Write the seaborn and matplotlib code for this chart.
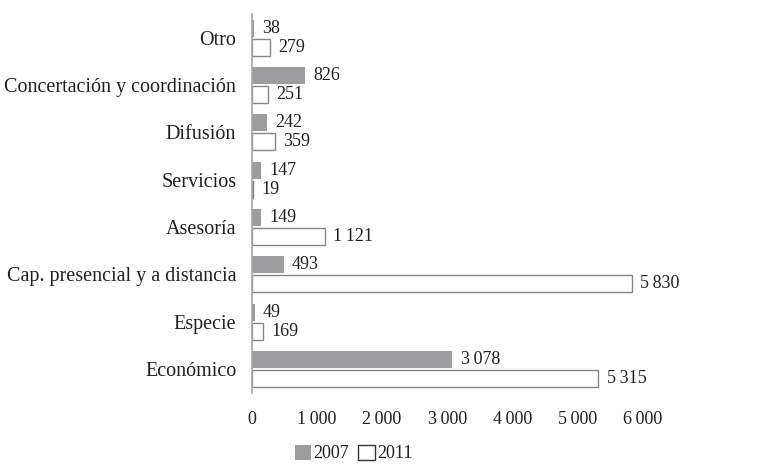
import matplotlib
matplotlib.use("Agg")
import matplotlib.pyplot as plt
import pandas as pd
import seaborn as sns

categorias = [
    "Otro",
    "Concertación y coordinación",
    "Difusión",
    "Servicios",
    "Asesoría",
    "Cap. presencial y a distancia",
    "Especie",
    "Económico",
]
valores_2007 = [38, 826, 242, 147, 149, 493, 49, 3078]
valores_2011 = [279, 251, 359, 19, 1121, 5830, 169, 5315]
anios = ["2007", "2011"]
ticks_x = [0, 1000, 2000, 3000, 4000, 5000, 6000]

sns.set_theme(style="white")
plt.rcParams["font.family"] = ["Liberation Serif", "DejaVu Serif"]

texto = "#231f20"
gris = "#9d9d9f"
borde = "#858585"
eje = "#a6a6a6"


def miles(v):
    # separador de miles: espacio fino
    return f"{v:,}".replace(",", "\u2009")


df = pd.DataFrame({
    "categoria": categorias * 2,
    "valor": valores_2007 + valores_2011,
    "anio": [anios[0]] * len(categorias) + [anios[1]] * len(categorias),
})

fig = plt.figure(figsize=(7.74, 4.66), dpi=100)
ax = fig.add_axes([0.325, 0.157, 0.59, 0.813])

sns.barplot(
    data=df, y="categoria", x="valor", hue="anio", orient="h",
    order=categorias, hue_order=anios,
    palette={"2007": gris, "2011": "white"},
    width=0.8, gap=0.1, ax=ax, legend=False,
)

# 2011: barras blancas con borde
for bar in ax.containers[1]:
    bar.set_edgecolor(borde)
    bar.set_linewidth(1.0)
for bar in ax.containers[0]:
    bar.set_linewidth(0)

for cont, vals in zip(ax.containers, [valores_2007, valores_2011]):
    ax.bar_label(cont, labels=[miles(v) for v in vals], padding=6,
                 fontsize=13, color=texto)

ax.set_xlim(0, 7000)
ax.set_ylim(7.5, -0.5)
ax.set_xticks(ticks_x)
ax.set_xticklabels([miles(t) for t in ticks_x])
ax.tick_params(axis="x", length=0, pad=13, labelsize=13, colors=texto)
ax.tick_params(axis="y", length=0, pad=11, labelsize=14.5, colors=texto)
ax.set_xlabel("")
ax.set_ylabel("")

for s in ["top", "right", "bottom"]:
    ax.spines[s].set_visible(False)
ax.spines["left"].set_color(eje)
ax.spines["left"].set_linewidth(1.2)

handles = [
    plt.Rectangle((0, 0), 1, 1, facecolor=gris, edgecolor="none"),
    plt.Rectangle((0, 0), 1, 1, facecolor="white", edgecolor="#333333", linewidth=1.0),
]
fig.legend(handles, anios, loc="lower center", bbox_to_anchor=(0.457, 0.0),
           ncol=2, frameon=False, fontsize=13, handlelength=0.9,
           handleheight=0.9, handletextpad=0.15, columnspacing=0.5,
           borderpad=0.1, borderaxespad=0.1, labelcolor=texto)

fig.savefig("out.png", dpi=100)
